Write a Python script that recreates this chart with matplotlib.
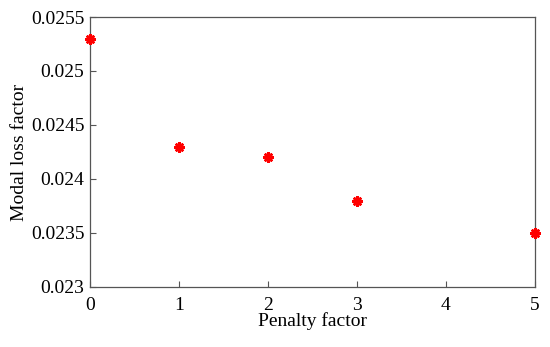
import numpy as np
import matplotlib.pyplot as plt

plt.rcParams['font.family'] = ['Liberation Serif', 'DejaVu Serif']

penalty = [0, 1, 2, 3, 5]
loss = [0.0253, 0.0243, 0.0242, 0.0238, 0.0235]
xticks = [0, 1, 2, 3, 4, 5]
yticks = [0.023, 0.0235, 0.024, 0.0245, 0.025, 0.0255]
ylabels = ['0.023', '0.0235', '0.024', '0.0245', '0.025', '0.0255']

fig = plt.figure(figsize=(5.5, 3.47), dpi=100)
ax = fig.add_axes([0.1636, 0.173, 0.8091, 0.778])

ax.plot(penalty, loss, linestyle='none', marker=(8, 2, 0), markersize=7.5,
        markeredgewidth=1.8, color='red', clip_on=False, zorder=5)

ax.set_xlim(0, 5)
ax.set_ylim(0.023, 0.0255)
ax.set_xticks(xticks)
ax.set_yticks(yticks)
ax.set_yticklabels(ylabels)
ax.tick_params(direction='in', length=4, width=0.8, color='#555555',
               labelsize=14)
ax.tick_params(axis='x', pad=7)
ax.tick_params(axis='y', pad=4)
for s in ax.spines.values():
    s.set_color('#555555')
    s.set_linewidth(0.9)

ax.set_xlabel('Penalty factor', fontsize=14, labelpad=-1)
ax.set_ylabel('Modal loss factor', fontsize=14, labelpad=2)

fig.savefig('out.png', dpi=100)
